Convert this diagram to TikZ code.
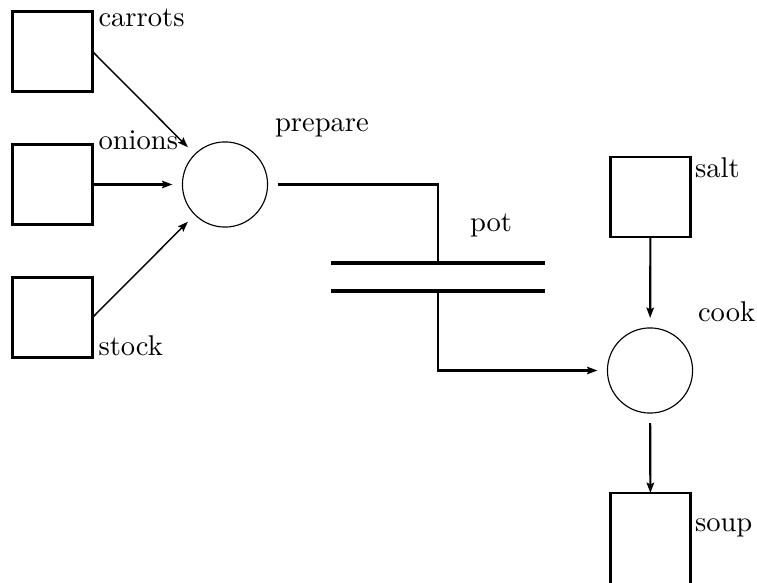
\documentclass[tikz,border=0pt]{standalone}
\usetikzlibrary{arrows.meta}
\begin{document}
\begin{tikzpicture}[x=0.35pt,y=-0.35pt,
  place/.style={draw,line width=0.75pt,minimum size=28pt,inner sep=0pt,outer sep=0pt},
  trans/.style={draw,circle,line width=0.4pt,minimum size=29.8pt,inner sep=0pt,outer sep=0pt},
  lbl/.style={anchor=base west,inner sep=0pt,outer sep=0pt},
  flow/.style={line width=0.75pt},
  thin flow/.style={line width=0.5pt},
  tip/.style={-{Stealth[length=3.6pt,width=2.6pt,inset=0.6pt]}},
  gapin/.style={shorten >=3.5pt},
  gapout/.style={shorten <=3.5pt},
  bar/.style={line width=1.4pt}]
\useasboundingbox (0,0) rectangle (757,582);

% places
\node[place] (carrots) at (52.5,51.5) {};
\node[place] (onions)  at (52.5,184.5) {};
\node[place] (stock)   at (52.5,317.5) {};
\node[place] (salt)    at (650.5,197) {};
% the output place runs past the lower edge of the page
\node[place,minimum height=36pt] (soup) at (650.5,544.4) {};

% transitions
\node[trans] (prepare) at (225,184.5) {};
\node[trans] (cook)    at (650,370.5) {};

% the pot: two heavy bars
\node[minimum width=74.9pt,minimum height=9.45pt,inner sep=0pt,outer sep=0pt] (pot) at (438,277) {};
\draw[bar] (pot.north west) -- (pot.north east);
\draw[bar] (pot.south west) -- (pot.south east);

% labels
\node[lbl] (lcarrots) at (98.5,27)    {carrots};
\node[lbl] (lonions)  at (98.5,150)   {onions};
\node[lbl] (lstock)   at (98.5,355)   {stock};
\node[lbl] (lprepare) at (275,131.5){prepare};
\node[lbl] (lpot)     at (470,231.5){pot};
\node[lbl] (lsalt)    at (695,178)  {salt};
\node[lbl] (lcook)    at (698,321.5){cook};
\node[lbl] (lsoup)    at (695,531.5){soup};

% arcs into prepare
\draw[thin flow,tip,gapin] (carrots.east) -- (prepare);
\draw[flow,tip,gapin] (onions.east) -- (prepare);
\draw[thin flow,tip,gapin] (stock.east) -- (prepare);

% prepare -> pot -> cook
\draw[flow,gapout] (prepare) -| (pot.north);
\draw[flow,tip,gapin] (pot.south) |- (cook);

% salt -> cook -> soup
\draw[flow,tip,gapin] (salt) -- (cook);
\draw[flow,tip,gapout] (cook) -- (soup);
\end{tikzpicture}
\end{document}
